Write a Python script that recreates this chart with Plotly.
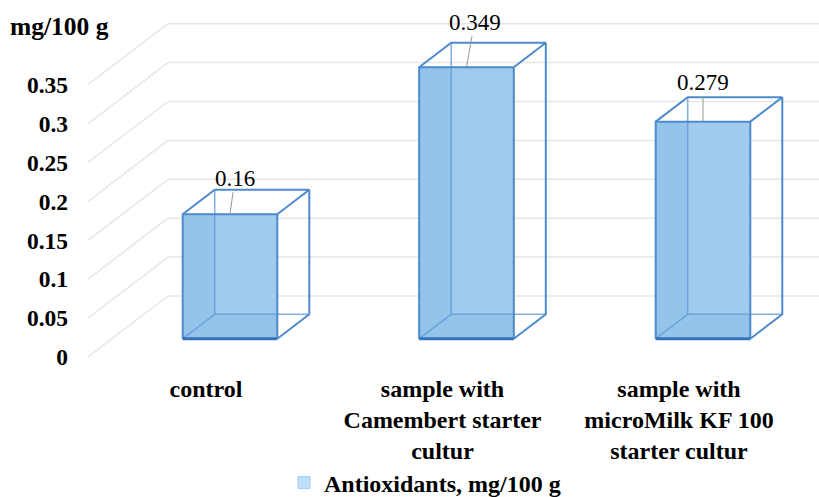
import plotly.graph_objects as go

# ---------------- data ----------------
categories = ["control", "sample with Camembert starter cultur", "sample with microMilk KF 100 starter cultur"]
category_tick_labels = ["control", "sample with<br>Camembert starter<br>cultur", "sample with<br>microMilk KF 100<br>starter cultur"]
values = [0.16, 0.349, 0.279]
value_labels = ["0.16", "0.349", "0.279"]
y_ticks = [0, 0.05, 0.1, 0.15, 0.2, 0.25, 0.3, 0.35]
y_tick_labels = ["0", "0.05", "0.1", "0.15", "0.2", "0.25", "0.3", "0.35"]
series_name = "Antioxidants, mg/100 g"
unit_label = "mg/100 g"

# ---------------- geometry / style ----------------
W_PX, H_PX = 819, 497
ML, MR, MT, MB = 88, 0, 0, 135
PLOT_W = W_PX - ML - MR
PLOT_H = H_PX - MT - MB
CAT_PX0, CAT_STEP = 206.0, 236.5      # pixel of first category on front plane, px per category
ZERO_PX, PX_PER_UNIT = 357.0, 778.0   # pixel of value 0 on front plane, px per value unit
DEPTH_DX_PX, DEPTH_DY_PX = 80.0, 61.0  # oblique depth offset of the back wall
DX = DEPTH_DX_PX / CAT_STEP
DY = DEPTH_DY_PX / PX_PER_UNIT
D_FRONT, D_BACK = 0.3, 0.7
BAR_W = 0.4

x_range = [(ML - CAT_PX0) / CAT_STEP, (W_PX - MR - CAT_PX0) / CAT_STEP]
y_range = [(ZERO_PX - (MT + PLOT_H)) / PX_PER_UNIT, (ZERO_PX - MT) / PX_PER_UNIT]

FONT = "Liberation Serif"
EDGE = "rgb(78,138,204)"
EDGE_DARK = "rgb(55,115,188)"
EDGE_INNER = "rgba(95,155,215,0.8)"
GRID = "rgb(230,230,230)"

fig = go.Figure()

# gridlines (behind everything): left wall diagonals + back wall horizontals
for t in y_ticks:
    fig.add_shape(type="line", xref="x", yref="y", x0=x_range[0], y0=t, x1=x_range[0] + DX, y1=t + DY,
                  line=dict(color=GRID, width=1.5), layer="below")
    fig.add_shape(type="line", xref="x", yref="y", x0=x_range[0] + DX, y0=t + DY, x1=x_range[1], y1=t + DY,
                  line=dict(color=GRID, width=1.5), layer="below")

pos = list(range(len(categories)))
front_x = [p + D_FRONT * DX for p in pos]
back_x = [p + D_BACK * DX for p in pos]
front_base = [D_FRONT * DY] * len(values)

# front faces (legend carrier)
fig.add_trace(go.Bar(x=front_x, y=values, base=front_base, width=BAR_W, name=series_name,
                     marker=dict(color="rgb(190,225,250)", line=dict(color="rgb(165,205,238)", width=1)),
                     showlegend=True, hoverinfo="skip"))
# shading of front faces
fig.add_trace(go.Bar(x=front_x, y=values, base=front_base, width=BAR_W,
                     marker=dict(color="rgba(70,140,205,0.34)", line=dict(width=0)),
                     showlegend=False, hoverinfo="skip"))
# lighter region where the back face shows through
ov_w = BAR_W - (D_BACK - D_FRONT) * DX
ov_x = [(b - BAR_W / 2 + f + BAR_W / 2) / 2 for f, b in zip(front_x, back_x)]
ov_base = [D_BACK * DY] * len(values)
ov_h = [v - (D_BACK - D_FRONT) * DY for v in values]
fig.add_trace(go.Bar(x=ov_x, y=ov_h, base=ov_base, width=ov_w,
                     marker=dict(color="rgba(255,255,255,0.12)", line=dict(width=0)),
                     showlegend=False, hoverinfo="skip"))

# box edges
ix, iy, ox, oy, bx_, by_ = [], [], [], [], [], []
for f, b, v in zip(front_x, back_x, values):
    fx0, fx1 = f - BAR_W / 2, f + BAR_W / 2
    bx0, bx1 = b - BAR_W / 2, b + BAR_W / 2
    fy0, fy1 = D_FRONT * DY, D_FRONT * DY + v
    by0, by1 = D_BACK * DY, D_BACK * DY + v
    # inner (seen-through) edges
    ix += [fx0, bx0, bx0, None, bx0, bx1, None]
    iy += [fy0, by0, by1, None, by0, by0, None]
    # outer edges
    ox += [fx0, fx0, fx1, fx1, None, fx0, bx0, bx1, fx1, None, fx1, bx1, bx1, None]
    oy += [fy0, fy1, fy1, fy0, None, fy1, by1, by1, fy1, None, fy0, by0, by1, None]
    bx_ += [fx0, fx1, None]
    by_ += [fy0, fy0, None]
fig.add_trace(go.Scatter(x=ix, y=iy, mode="lines", line=dict(color=EDGE_INNER, width=1.5),
                         showlegend=False, hoverinfo="skip"))
fig.add_trace(go.Scatter(x=ox, y=oy, mode="lines", line=dict(color=EDGE, width=2),
                         showlegend=False, hoverinfo="skip"))
fig.add_trace(go.Scatter(x=bx_, y=by_, mode="lines", line=dict(color=EDGE_DARK, width=3),
                         showlegend=False, hoverinfo="skip"))

# data labels with leader lines
label_offsets = [(5, -36), (8, -45), (0, -39)]
for f, v, lab, (axo, ayo) in zip(front_x, values, value_labels, label_offsets):
    fig.add_annotation(x=f, y=D_FRONT * DY + v, text=lab, showarrow=True, arrowhead=0,
                       arrowwidth=1, arrowcolor="rgb(150,150,150)", ax=axo, ay=ayo, standoff=0,
                       font=dict(family=FONT, size=23, color="black"))

# unit label at top-left
fig.add_annotation(xref="paper", yref="paper", x=(8 - ML) / PLOT_W, y=(PLOT_H - 26) / PLOT_H,
                   xanchor="left", yanchor="middle", text=unit_label, showarrow=False,
                   font=dict(family=FONT, size=25.5, color="black", weight="bold"))

fig.update_layout(
    width=W_PX, height=H_PX,
    margin=dict(l=ML, r=MR, t=MT, b=MB, autoexpand=False),
    paper_bgcolor="white", plot_bgcolor="white",
    barmode="overlay", hovermode=False,
    font=dict(family=FONT, size=23, color="black"),
    xaxis=dict(range=x_range, tickvals=pos, ticktext=category_tick_labels, showgrid=False,
               zeroline=False, showline=False, ticks="", ticklabelstandoff=10,
               tickfont=dict(family=FONT, size=24, color="black", weight="bold"), fixedrange=True),
    yaxis=dict(range=y_range, tickvals=y_ticks, ticktext=y_tick_labels, showgrid=False,
               zeroline=False, showline=False, ticks="", ticklabelstandoff=19,
               tickfont=dict(family=FONT, size=23.5, color="black", weight="bold"), fixedrange=True),
    legend=dict(orientation="h", x=(425 - ML) / PLOT_W, xanchor="center",
                y=(PLOT_H - 483) / PLOT_H, yanchor="middle",
                font=dict(family=FONT, size=24, color="black", weight="bold"),
                bgcolor="rgba(0,0,0,0)"),
)

fig.write_html("out.html")
